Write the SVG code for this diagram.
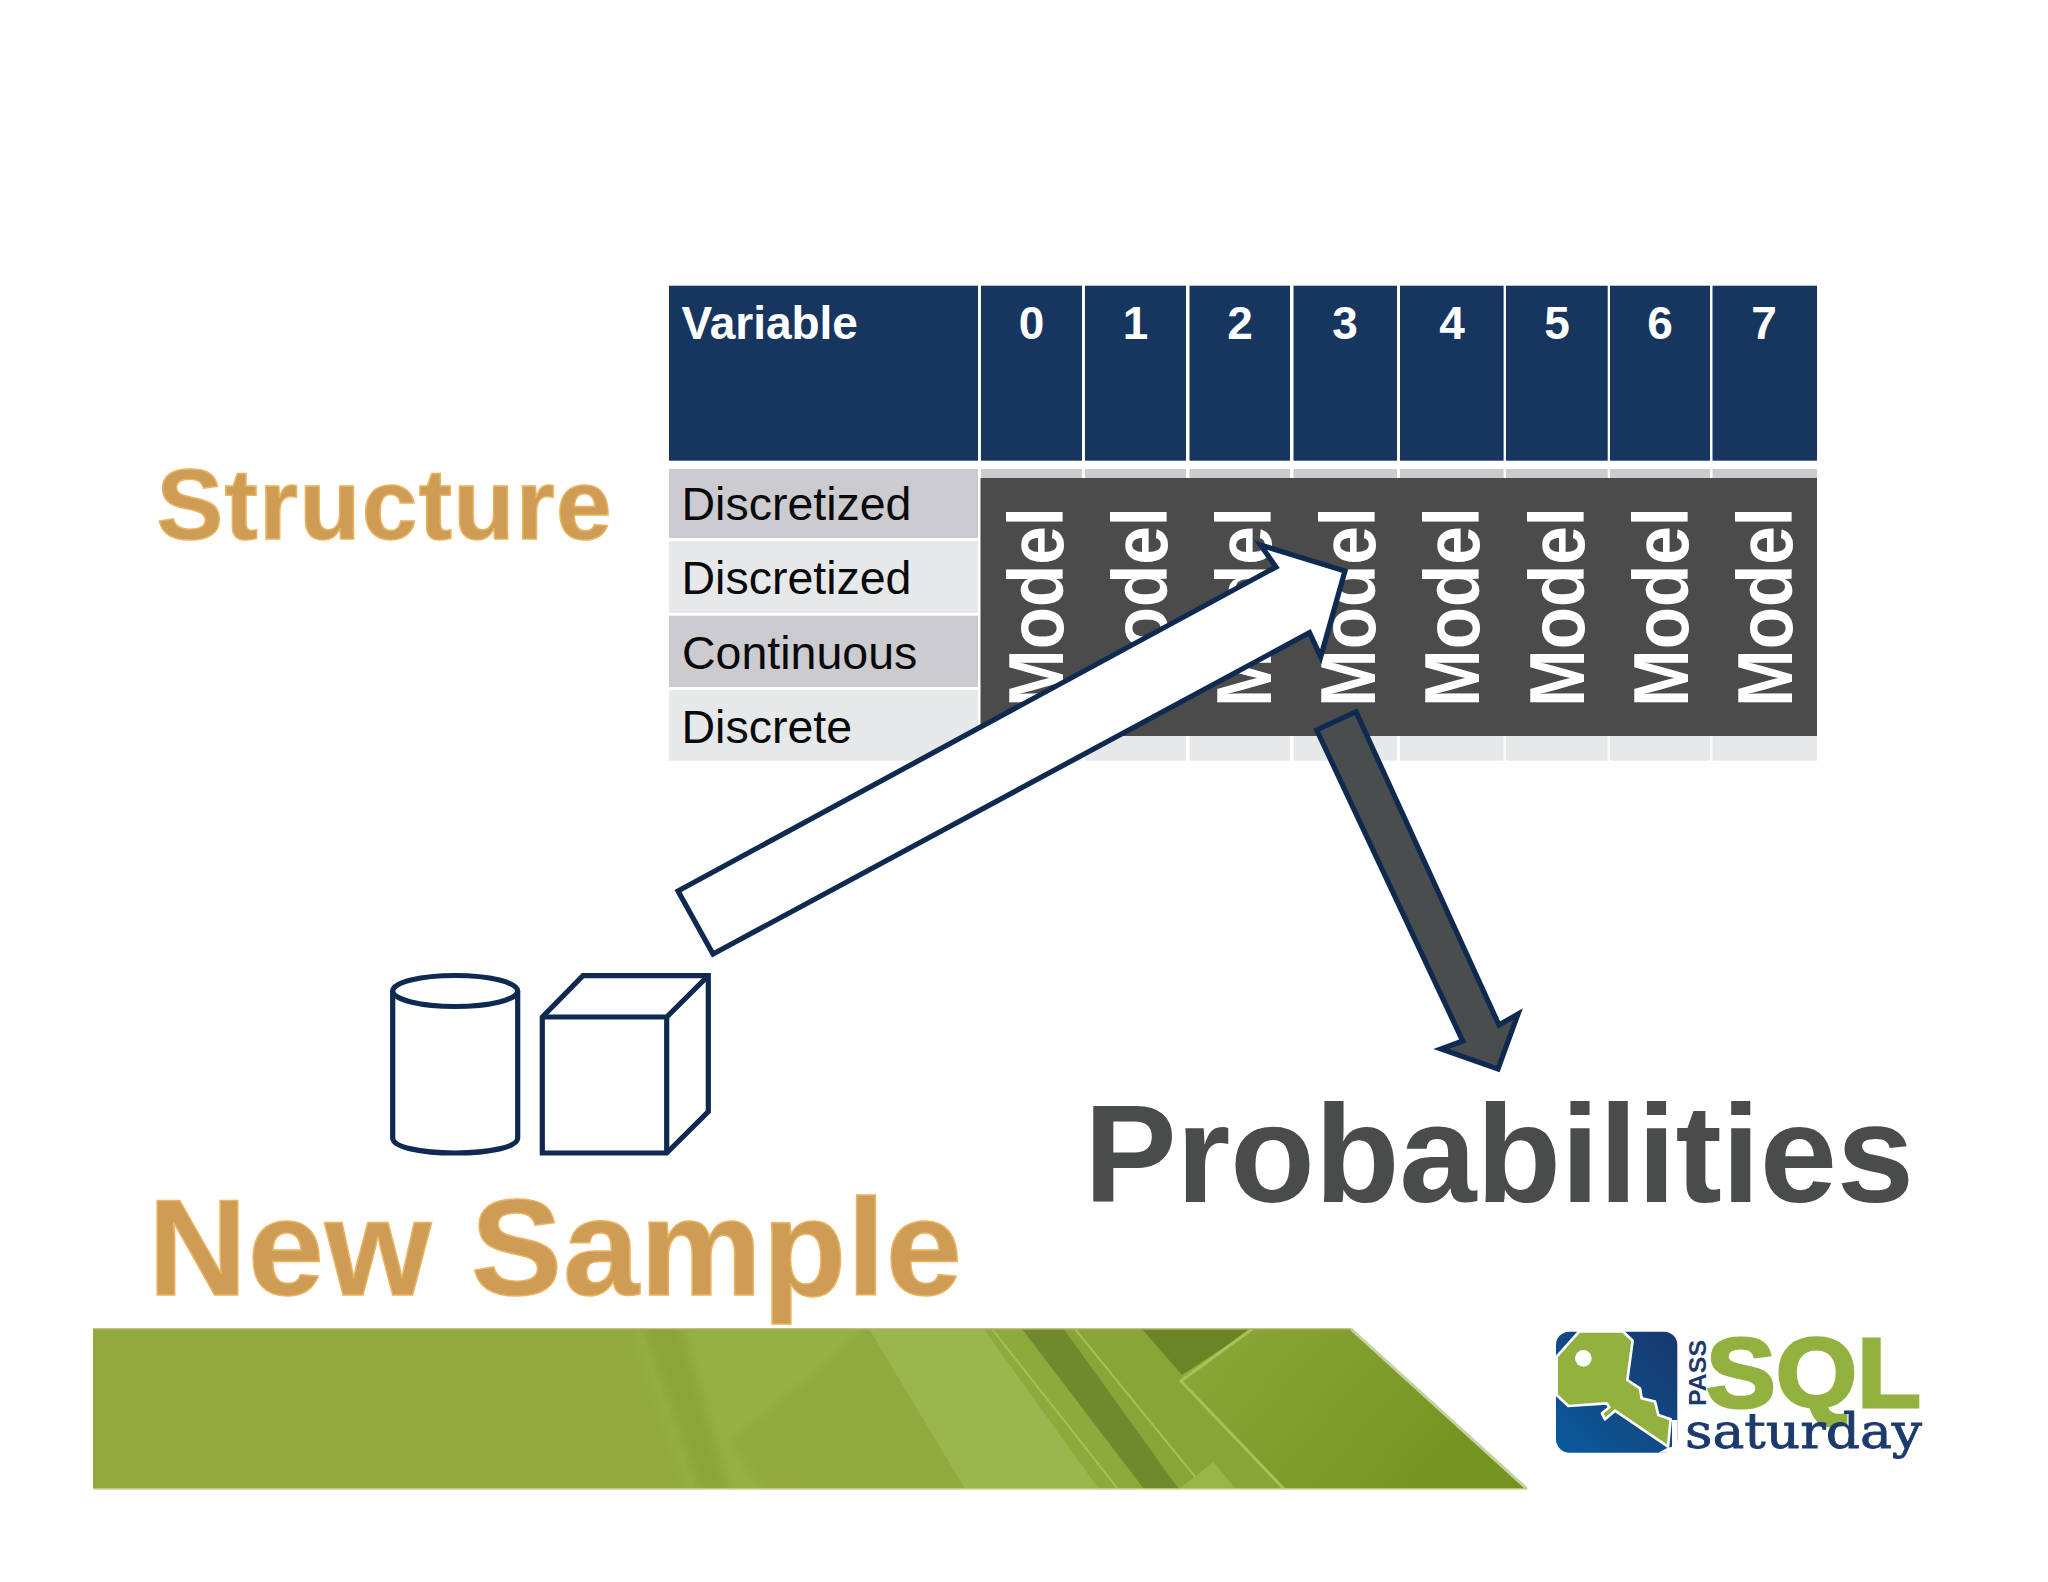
<svg xmlns="http://www.w3.org/2000/svg" width="2048" height="1582" viewBox="0 0 2048 1582">
<style>
text{font-family:"Liberation Sans",Arial,sans-serif}
.hd{fill:#17365f}
.r1{fill:#cbcbd0}
.r2{fill:#e7e8ea}
.hdt{font-size:46px;font-weight:700;fill:#fff}
.num{text-anchor:middle}
.rowt{font-size:46.5px;fill:#0a0a0a}
.mod{font-size:78px;font-weight:700;fill:#fff}
.gold{font-weight:700;fill:#cf9c54;stroke:#ebb361;stroke-width:1.5px;filter:url(#soft)}
.line{fill:#fff;stroke:#0f2a50;stroke-width:5.2px;stroke-linejoin:miter}
</style>
<defs>
<filter id="soft" x="-5%" y="-10%" width="110%" height="120%"><feGaussianBlur stdDeviation="0.6"/></filter>
<filter id="haze" x="-10%" y="-10%" width="120%" height="120%"><feGaussianBlur stdDeviation="5"/></filter>
<clipPath id="bandclip"><polygon points="93,1329 1351,1329 1527,1489 93,1489"/></clipPath>
<linearGradient id="panel" x1="0" y1="0" x2="1" y2="0.4"><stop offset="0" stop-color="#8aa93a"/><stop offset="1" stop-color="#76931f"/></linearGradient>
<linearGradient id="bl" x1="0" y1="1" x2="1" y2="0"><stop offset="0" stop-color="#0a5a9c"/><stop offset="1" stop-color="#17386c"/></linearGradient>
</defs>
<rect width="2048" height="1582" fill="#fff"/>

<g id="band">
<polygon points="93,1329 1351,1329 1527,1489 93,1489" fill="#92aa3e"/>
<g clip-path="url(#bandclip)">
<polygon points="630,1320 869,1320 800,1400 731,1443 765,1495 690,1495" fill="#96b044" filter="url(#haze)"/>
<polygon points="640,1320 680,1320 730,1495 700,1495" fill="#8ca53a" filter="url(#haze)"/>
<polygon points="793,1390 869,1329 965,1489 845,1489 731,1443" fill="#90aa3f" filter="url(#haze)"/>
<polygon points="869,1329 984,1329 1099,1489 965,1489" fill="#9bb64c"/>
<polygon points="984,1329 1022,1329 1144,1489 1099,1489" fill="#8eaa3d"/>
<line x1="992" y1="1329" x2="1118" y2="1489" stroke="#a6c058" stroke-width="2"/>
<polygon points="1022,1329 1064,1329 1179,1489 1144,1489" fill="#6e8a2c"/>
<polygon points="1064,1329 1142,1329 1182,1375 1181,1381 1284,1489 1179,1489" fill="#88a538"/>
<line x1="1075" y1="1329" x2="1205" y2="1489" stroke="#a6c058" stroke-width="2"/>
<polygon points="1142,1329 1252,1329 1182,1375" fill="#6a8526"/>
<polygon points="1252,1329 1351,1329 1527,1489 1284,1489 1181,1381" fill="url(#panel)"/>
<polyline points="1252,1329 1181,1381 1284,1489" fill="none" stroke="#a6c35a" stroke-width="3"/>
<polygon points="1179,1489 1213,1462 1236,1489" fill="#98b54a"/>
</g>
<line x1="1351" y1="1329" x2="1527" y2="1489" stroke="#c3d2a0" stroke-width="3"/>
<line x1="93" y1="1329" x2="1351" y2="1329" stroke="#aead62" stroke-width="1.5"/>
<line x1="93" y1="1489" x2="1527" y2="1489" stroke="#cad797" stroke-width="1.5"/>
</g>

<g id="table">
<rect class="hd" x="669" y="285.7" width="309" height="175"/>
<rect class="hd" x="981" y="285.7" width="101" height="175"/>
<rect class="hd" x="1085" y="285.7" width="101" height="175"/>
<rect class="hd" x="1189.5" y="285.7" width="100.5" height="175"/>
<rect class="hd" x="1293.5" y="285.7" width="103.5" height="175"/>
<rect class="hd" x="1400" y="285.7" width="103.6" height="175"/>
<rect class="hd" x="1506" y="285.7" width="101.7" height="175"/>
<rect class="hd" x="1610" y="285.7" width="100" height="175"/>
<rect class="hd" x="1712.5" y="285.7" width="104.5" height="175"/>
<text class="hdt" x="681.5" y="339">Variable</text>
<text class="hdt num" x="1031.5" y="339">0</text>
<text class="hdt num" x="1135.5" y="339">1</text>
<text class="hdt num" x="1240" y="339">2</text>
<text class="hdt num" x="1345" y="339">3</text>
<text class="hdt num" x="1452" y="339">4</text>
<text class="hdt num" x="1557" y="339">5</text>
<text class="hdt num" x="1660" y="339">6</text>
<text class="hdt num" x="1764" y="339">7</text>
<rect class="r1" x="669" y="469" width="309" height="69"/>
<rect class="r2" x="669" y="541" width="309" height="72"/>
<rect class="r1" x="669" y="615.7" width="309" height="71.3"/>
<rect class="r2" x="669" y="690" width="309" height="70.7"/>
<text class="rowt" x="681.5" y="520">Discretized</text>
<text class="rowt" x="681.5" y="594">Discretized</text>
<text class="rowt" x="682" y="668.6">Continuous</text>
<text class="rowt" x="681.5" y="742.7">Discrete</text>
<rect class="r1" x="981" y="469" width="101" height="12"/>
<rect class="r1" x="1085" y="469" width="101" height="12"/>
<rect class="r1" x="1189.5" y="469" width="100.5" height="12"/>
<rect class="r1" x="1293.5" y="469" width="103.5" height="12"/>
<rect class="r1" x="1400" y="469" width="103.6" height="12"/>
<rect class="r1" x="1506" y="469" width="101.7" height="12"/>
<rect class="r1" x="1610" y="469" width="100" height="12"/>
<rect class="r1" x="1712.5" y="469" width="104.5" height="12"/>
<rect class="r2" x="981" y="734" width="101" height="26.7"/>
<rect class="r2" x="1085" y="734" width="101" height="26.7"/>
<rect class="r2" x="1189.5" y="734" width="100.5" height="26.7"/>
<rect class="r2" x="1293.5" y="734" width="103.5" height="26.7"/>
<rect class="r2" x="1400" y="734" width="103.6" height="26.7"/>
<rect class="r2" x="1506" y="734" width="101.7" height="26.7"/>
<rect class="r2" x="1610" y="734" width="100" height="26.7"/>
<rect class="r2" x="1712.5" y="734" width="104.5" height="26.7"/>
</g>

<g id="models">
<rect x="980.5" y="478" width="836.5" height="258" fill="#4b4b4b"/>
<text class="mod" transform="translate(1063,707) rotate(-90)" textLength="200" lengthAdjust="spacingAndGlyphs">Model</text>
<text class="mod" transform="translate(1167,707) rotate(-90)" textLength="200" lengthAdjust="spacingAndGlyphs">Model</text>
<text class="mod" transform="translate(1271,707) rotate(-90)" textLength="200" lengthAdjust="spacingAndGlyphs">Model</text>
<text class="mod" transform="translate(1375,707) rotate(-90)" textLength="200" lengthAdjust="spacingAndGlyphs">Model</text>
<text class="mod" transform="translate(1479,707) rotate(-90)" textLength="200" lengthAdjust="spacingAndGlyphs">Model</text>
<text class="mod" transform="translate(1583.6,707) rotate(-90)" textLength="200" lengthAdjust="spacingAndGlyphs">Model</text>
<text class="mod" transform="translate(1688,707) rotate(-90)" textLength="200" lengthAdjust="spacingAndGlyphs">Model</text>
<text class="mod" transform="translate(1792,707) rotate(-90)" textLength="200" lengthAdjust="spacingAndGlyphs">Model</text>
</g>

<g id="cylinder">
<path class="line" d="M392.7,991 V1138 C392.7,1147 420,1153 455.2,1153 C490,1153 517.7,1147 517.7,1138 V991"/>
<ellipse class="line" cx="455.2" cy="991" rx="62.5" ry="15.5"/>
</g>

<g id="cube">
<path class="line" d="M542.3,1017 L583,975.7 H708.3 V1111.7 L666.7,1153 H542.3 Z"/>
<path class="line" style="fill:none" d="M542.3,1017 H666.7 V1153 M666.7,1017 L708.3,975.7"/>
</g>

<g id="connectors">
<polygon class="line" points="678,891 1276,567 1260.5,545 1345,571 1320.7,656.7 1309.5,632.7 713,954"/>
<polygon class="line" style="fill:#4a4d4d" points="1316.7,730 1356,711.7 1499,1025 1518,1014 1498,1069 1441,1049 1462.7,1041"/>
</g>

<g id="structure-label"><text class="gold" x="156.5" y="539" font-size="100" textLength="455">Structure</text></g>
<g id="new-sample-label"><text class="gold" x="148" y="1295" font-size="137" textLength="814">New Sample</text></g>
<g id="probabilities-label"><text x="1084" y="1201.7" font-size="139" font-weight="700" fill="#4a4c4c" textLength="830">Probabilities</text></g>

<g id="logo">
<g transform="translate(1540,1320) scale(0.3333)">
<rect x="48" y="35" width="364" height="363" rx="40" fill="url(#bl)"/>
<polygon points="355,398 412,398 412,300 396,300 396,380 380,385" fill="#fff"/>
<polygon points="118,34 248,34 278,62 262,180 300,205 305,235 345,245 355,285 392,298 384,380 225,272 195,298 186,280 208,262 200,250 85,258 50,225 50,110" fill="#92b13e" stroke="#fff" stroke-width="8" stroke-linejoin="round"/>
<circle cx="130" cy="115" r="25" fill="#fff"/>
</g>
<text transform="translate(1705.7,1406) rotate(-90)" font-size="24" font-weight="700" fill="#1a3a6b" textLength="66" lengthAdjust="spacingAndGlyphs">PASS</text>
<text x="1706" y="1407" font-size="98" font-weight="700" fill="#92b13e" stroke="#92b13e" stroke-width="3" textLength="215" lengthAdjust="spacingAndGlyphs">SQL</text>
<text x="1685" y="1448" font-size="48" fill="#1c3a6b" stroke="#1c3a6b" stroke-width="0.8" textLength="237" lengthAdjust="spacingAndGlyphs" style="font-family:'DejaVu Serif',serif">saturday</text>
</g>
</svg>
